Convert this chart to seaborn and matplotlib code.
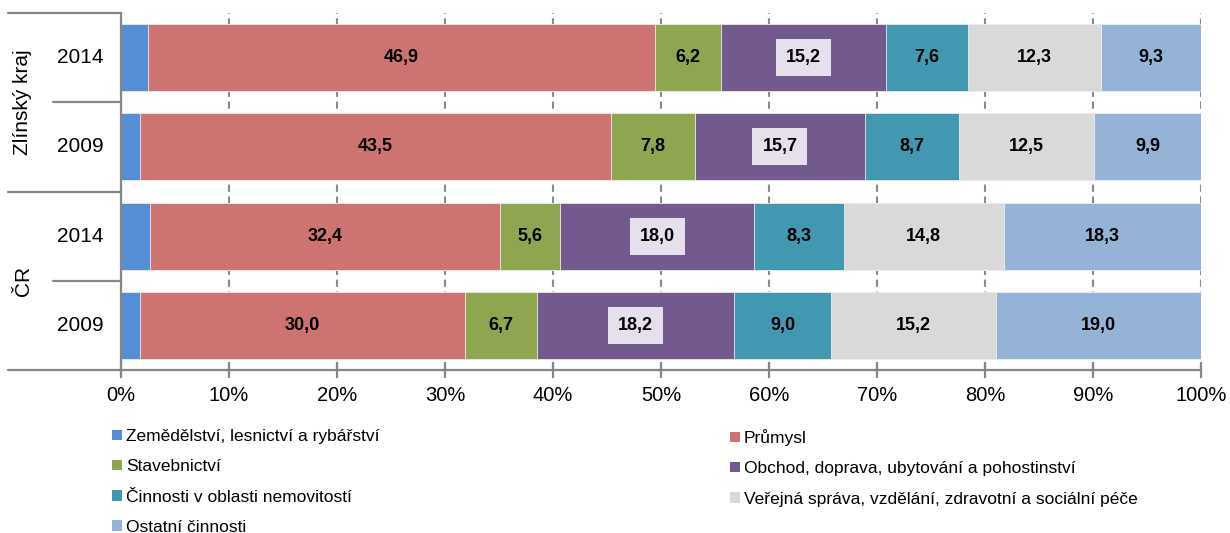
import numpy as np
import pandas as pd
import matplotlib
matplotlib.use("Agg")
import matplotlib.pyplot as plt
import seaborn as sns
from matplotlib.patches import Patch

# ---------------- data ----------------
groups = ["Zlínský kraj", "Zlínský kraj", "ČR", "ČR"]
years = ["2014", "2009", "2014", "2009"]
sectors = [
    "Zemědělství, lesnictví a rybářství",
    "Průmysl",
    "Stavebnictví",
    "Obchod, doprava, ubytování a pohostinství",
    "Činnosti v oblasti nemovitostí",
    "Veřejná správa, vzdělání, zdravotní a sociální péče",
    "Ostatní činnosti",
]
agriculture = [2.5, 1.8, 2.7, 1.8]
industry = [46.9, 43.5, 32.4, 30.0]
construction = [6.2, 7.8, 5.6, 6.7]
trade = [15.2, 15.7, 18.0, 18.2]
real_estate = [7.6, 8.7, 8.3, 9.0]
public = [12.3, 12.5, 14.8, 15.2]
other = [9.3, 9.9, 18.3, 19.0]
x_ticks = [0, 10, 20, 30, 40, 50, 60, 70, 80, 90, 100]

colors = ["#558ED5", "#CD7371", "#8EA650", "#725A8F", "#4298B0", "#D9D9D9", "#95B3D7"]

# ---------------- prep ----------------
values = np.array([agriculture, industry, construction, trade, real_estate, public, other]).T  # rows x sectors
shares = values / values.sum(axis=1, keepdims=True) * 100
cum = np.cumsum(shares, axis=1)
row_keys = [f"{g} {y}" for g, y in zip(groups, years)]

sns.set_theme(style="white")
plt.rcParams["font.family"] = ["Liberation Sans", "DejaVu Sans"]
plt.rcParams["text.color"] = "black"

W, H = 1230, 533
fig = plt.figure(figsize=(W / 100, H / 100), dpi=100)
ax = fig.add_axes([121 / W, 1 - 370 / H, 1080 / W, 357 / H])

# stacked bars: draw cumulative totals from the last sector backwards
for i in reversed(range(len(sectors))):
    df = pd.DataFrame({"row": row_keys, "value": cum[:, i]})
    sns.barplot(data=df, x="value", y="row", orient="h", color=colors[i],
                saturation=1, width=0.75, ax=ax, edgecolor="#EEEEEE",
                linewidth=0.6, zorder=2)

# value labels
for r in range(len(row_keys)):
    for i in range(1, len(sectors)):
        center = cum[r, i] - shares[r, i] / 2
        txt = f"{values[r, i]:.1f}".replace(".", ",")
        kw = dict(ha="center", va="center", fontsize=13, fontweight="bold",
                  color="black", zorder=5)
        if i == 3:
            kw["bbox"] = dict(boxstyle="square,pad=0.55", fc="#E6E0EC", ec="none")
        ax.text(center, r, txt, **kw)

# axes styling
ax.set_xlim(0, 100)
ax.set_ylim(3.5, -0.5)
ax.set_xticks(x_ticks)
ax.set_xticklabels([f"{t}%" for t in x_ticks], fontsize=14.5, color="black")
ax.set_xlabel("")
ax.set_ylabel("")
ax.set_yticks([])
ax.set_axisbelow(True)
ax.grid(axis="x", color="#8A8A8A", linewidth=1.5, linestyle=(0, (3.5, 2.2)), zorder=0)
ax.grid(axis="y", visible=False)
for s in ["top", "right"]:
    ax.spines[s].set_visible(False)
for s in ["left", "bottom"]:
    ax.spines[s].set_color("#868686")
    ax.spines[s].set_linewidth(1.6)
ax.tick_params(axis="x", direction="inout", length=11, width=1.6, color="#868686",
               pad=6, bottom=True)

# hierarchical category axis
tr = ax.get_yaxis_transform()
xl_long = (8 - 121) / 1080
xl_short = (53 - 121) / 1080
line_kw = dict(color="#868686", linewidth=1.6, transform=tr, clip_on=False)
for yb, xs in [(-0.5, xl_long), (0.5, xl_short), (1.5, xl_long), (2.5, xl_short), (3.5, xl_long)]:
    ax.plot([xs, 0], [yb, yb], **line_kw)
for r, y in enumerate(years):
    ax.text((80 - 121) / 1080, r, y, transform=tr, ha="center", va="center",
            fontsize=15, color="black")
uniq_groups = list(dict.fromkeys(groups))
for g in uniq_groups:
    idx = [k for k, gg in enumerate(groups) if gg == g]
    ax.text((23 - 121) / 1080, np.mean(idx), g, transform=tr, ha="center",
            va="center", rotation=90, fontsize=15, color="black")

# legend (row-major like the original: two columns)
handles = [Patch(facecolor=c, edgecolor="none") for c in colors]
leg_kw = dict(frameon=False, fontsize=12.5, handlelength=0.55, handleheight=0.55,
              handletextpad=0.25, labelspacing=0.88, borderpad=0, borderaxespad=0,
              loc="upper left", labelcolor="black")
col1 = [0, 2, 4, 6]
col2 = [1, 3, 5]
fig.legend([handles[i] for i in col1], [sectors[i] for i in col1],
           bbox_to_anchor=(112 / W, 1 - 429 / H), **leg_kw)
fig.legend([handles[i] for i in col2], [sectors[i] for i in col2],
           bbox_to_anchor=(730 / W, 1 - 429 / H), **leg_kw)

fig.savefig("out.png", dpi=100)
